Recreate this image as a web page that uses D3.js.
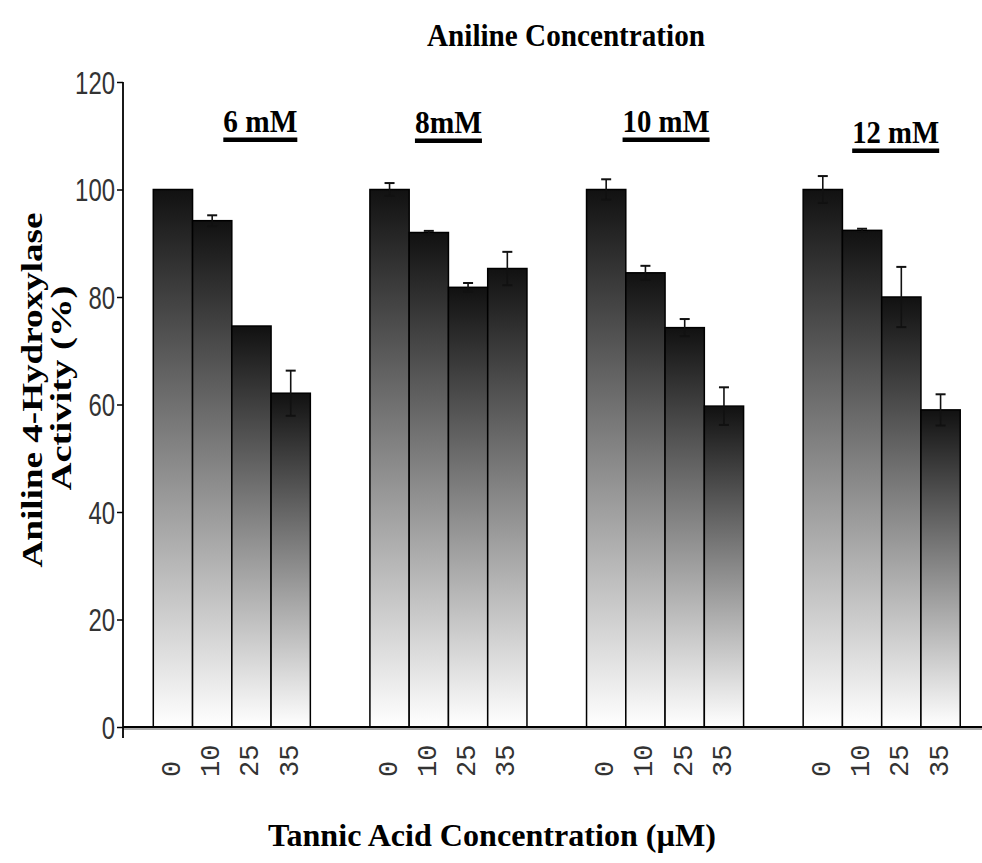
<!DOCTYPE html>
<html>
<head>
<meta charset="utf-8">
<script src="https://cdn.jsdelivr.net/npm/d3@7"></script>
<style>
  html, body { margin: 0; padding: 0; background: #fff; }
  svg { display: block; }
</style>
</head>
<body>
<svg id="chart" width="982" height="863"></svg>
<script>
// ---- data ----
const groups = ["6 mM", "8mM", "10 mM", "12 mM"];
const tannic = ["0", "10", "25", "35"];
const activity6  = [100, 94.2, 74.6, 62.1];
const activity8  = [100, 92.0, 81.8, 85.3];
const activity10 = [100, 84.5, 74.3, 59.7];
const activity12 = [100, 92.4, 80.0, 59.0];
const error6  = [0, 1.0, 0, 4.2];
const error8  = [1.2, 0.3, 0.8, 3.1];
const error10 = [1.9, 1.3, 1.6, 3.5];
const error12 = [2.5, 0.3, 5.6, 2.9];
const yTicks = [0, 20, 40, 60, 80, 100, 120];
const title = "Aniline Concentration";
const yTitle = ["Aniline 4-Hydroxylase", "Activity (%)"];
const xTitle = "Tannic Acid Concentration (\u00B5M)";

const activity = [activity6, activity8, activity10, activity12];
const errors = [error6, error8, error10, error12];
const rows = [];
groups.forEach((g, gi) => tannic.forEach((t, ti) => rows.push({group: g, tannic: t, value: activity[gi][ti], err: errors[gi][ti]})));

// ---- layout ----
const svg = d3.select("#chart");
const x0 = d3.scaleBand().domain(groups).range([123.5, 990]).paddingInner(0.275).paddingOuter(0.1375);
const x1 = d3.scaleBand().domain(tannic).range([0, x0.bandwidth()]);
const y = d3.scaleLinear().domain([0, 120]).range([727, 82]);
const axisX = 123;
const serif = "'Liberation Serif','Times New Roman',serif";

// gradient
const defs = svg.append("defs");
const grad = defs.append("linearGradient").attr("id", "barGrad")
  .attr("x1", 0).attr("y1", 0).attr("x2", 0).attr("y2", 1);
grad.append("stop").attr("offset", "0%").attr("stop-color", "#111");
grad.append("stop").attr("offset", "100%").attr("stop-color", "#fff");

// bars
svg.append("g").selectAll("rect").data(rows).join("rect")
  .attr("x", d => x0(d.group) + x1(d.tannic))
  .attr("y", d => y(d.value))
  .attr("width", x1.bandwidth())
  .attr("height", d => y(0) - y(d.value))
  .attr("fill", "url(#barGrad)")
  .attr("stroke", "#000")
  .attr("stroke-width", 1.5);

// error bars
const eg = svg.append("g").attr("stroke", "#111").attr("stroke-width", 1.6);
rows.filter(d => d.err > 0).forEach(d => {
  const cx = x0(d.group) + x1(d.tannic) + x1.bandwidth() / 2;
  eg.append("line").attr("x1", cx).attr("x2", cx).attr("y1", y(d.value + d.err)).attr("y2", y(d.value - d.err));
  eg.append("line").attr("x1", cx - 5).attr("x2", cx + 5).attr("y1", y(d.value + d.err)).attr("y2", y(d.value + d.err)).attr("stroke-width", 2);
  eg.append("line").attr("x1", cx - 5).attr("x2", cx + 5).attr("y1", y(d.value - d.err)).attr("y2", y(d.value - d.err)).attr("stroke-width", 2);
});

// x axis line with shadow
svg.append("line").attr("x1", axisX).attr("x2", 982).attr("y1", y(0) + 2).attr("y2", y(0) + 2).attr("stroke", "#aaa").attr("stroke-width", 2);
svg.append("line").attr("x1", axisX).attr("x2", 982).attr("y1", y(0)).attr("y2", y(0)).attr("stroke", "#000").attr("stroke-width", 2);

// y axis
const yAxis = svg.append("g").attr("transform", `translate(${axisX},0)`)
  .call(d3.axisLeft(y).tickValues(yTicks).tickSize(6).tickPadding(2).tickSizeOuter(0));
yAxis.select(".domain").remove();
yAxis.selectAll(".tick line").attr("stroke", "#000").attr("stroke-width", 1.5);
yAxis.selectAll(".tick text")
  .attr("font-family", "'Liberation Sans',Arial,sans-serif")
  .attr("font-size", 31).attr("fill", "#333")
  .attr("dy", "0.36em")
  .attr("textLength", d => String(d).length * 13.3)
  .attr("lengthAdjust", "spacingAndGlyphs");
svg.append("line").attr("x1", axisX).attr("x2", axisX).attr("y1", y(120)).attr("y2", y(0) + 11).attr("stroke", "#000").attr("stroke-width", 1.8);

// x tick labels (rotated)
svg.append("g").selectAll("text").data(rows).join("text")
  .attr("transform", d => `translate(${x0(d.group) + x1(d.tannic) + x1.bandwidth() / 2},777) rotate(-90)`)
  .attr("text-anchor", "start")
  .attr("dominant-baseline", "central")
  .attr("font-family", "'Liberation Mono','Courier New',monospace")
  .attr("font-size", 27).attr("fill", "#333")
  .text(d => d.tannic);

// group labels with underline
const labelDx = [28.5, 0, 1, 14];
const labelDy = [0, 1, 0, 11];
const labelW = [74, 67, 87, 87];
groups.forEach((g, i) => {
  const cx = x0(g) + x0.bandwidth() / 2 + labelDx[i];
  const base = 132 + labelDy[i];
  svg.append("text").attr("x", cx).attr("y", base).attr("text-anchor", "middle")
    .attr("font-family", serif).attr("font-weight", "bold").attr("font-size", 32)
    .attr("textLength", labelW[i]).attr("lengthAdjust", "spacingAndGlyphs")
    .text(g);
  svg.append("rect").attr("x", cx - labelW[i] / 2).attr("y", base + 5.5).attr("width", labelW[i]).attr("height", 4.5).attr("fill", "#000");
});

// title
svg.append("text").attr("x", 566).attr("y", 46).attr("text-anchor", "middle")
  .attr("font-family", serif).attr("font-weight", "bold").attr("font-size", 32)
  .attr("textLength", 278).attr("lengthAdjust", "spacingAndGlyphs")
  .text(title);

// y title
svg.append("text").attr("transform", "translate(42,390) rotate(-90)").attr("text-anchor", "middle")
  .attr("font-family", serif).attr("font-weight", "bold").attr("font-size", 30)
  .attr("textLength", 355).attr("lengthAdjust", "spacingAndGlyphs")
  .text(yTitle[0]);
svg.append("text").attr("transform", "translate(71,388) rotate(-90)").attr("text-anchor", "middle")
  .attr("font-family", serif).attr("font-weight", "bold").attr("font-size", 30)
  .attr("textLength", 205).attr("lengthAdjust", "spacingAndGlyphs")
  .text(yTitle[1]);

// x title
svg.append("text").attr("x", 492).attr("y", 846).attr("text-anchor", "middle")
  .attr("font-family", serif).attr("font-weight", "bold").attr("font-size", 32)
  .attr("textLength", 448).attr("lengthAdjust", "spacingAndGlyphs")
  .text(xTitle);
</script>
</body>
</html>
